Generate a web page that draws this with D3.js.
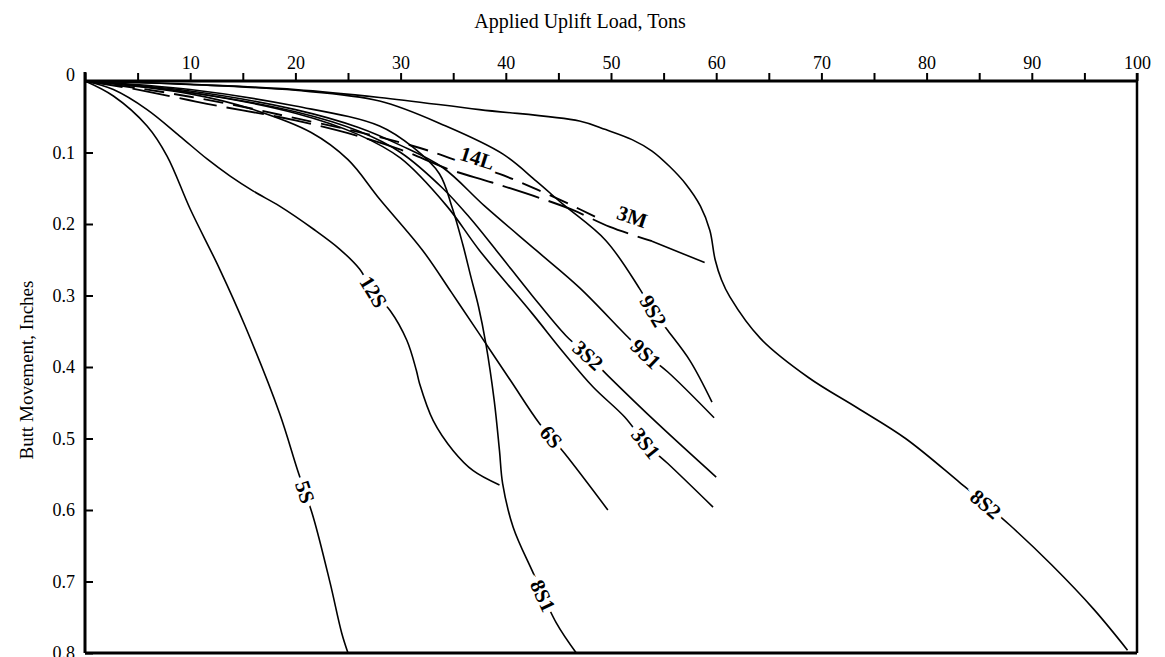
<!DOCTYPE html>
<html>
<head>
<meta charset="utf-8">
<script src="https://cdn.jsdelivr.net/npm/d3@7"></script>
<style>
  body { margin: 0; background: #fff; }
</style>
</head>
<body>
<script>
const width = 1165;
const height = 657;
const x_left = 85;
const x_right = 1137;
const y_top = 81;
const y_bottom = 653;
const serif = "'Liberation Serif', 'Times New Roman', serif";

// load (tons) vs butt movement (inches)
const s5S = [[0,0],[2.7,0.021],[5.9,0.063],[7.8,0.105],[10,0.179],[12.8,0.263],[15.2,0.342],[18.5,0.465],[20.2,0.544],[21.7,0.61],[23.3,0.702],[24.4,0.772],[25,0.8]];
const s12S = [[0,0],[2.7,0.012],[5.9,0.04],[9,0.077],[11.6,0.109],[13.8,0.133],[16,0.154],[18.5,0.175],[21.7,0.207],[24.2,0.235],[26.1,0.263],[27.4,0.295],[29,0.321],[30.6,0.363],[31.5,0.405],[31.8,0.423],[33.1,0.475],[35,0.517],[36.9,0.545],[39.4,0.565]];
const s8S1 = [[0,0],[10,0.012],[20,0.035],[28,0.063],[31.2,0.093],[33.7,0.13],[34.9,0.177],[35.9,0.228],[36.7,0.275],[37.4,0.315],[38.1,0.367],[38.9,0.447],[39.4,0.517],[39.7,0.563],[40.7,0.624],[42.6,0.688],[44.8,0.758],[46.7,0.8]];
const s6S = [[0,0],[10,0.018],[16,0.04],[21.5,0.072],[25,0.11],[28,0.165],[32.1,0.237],[34.8,0.295],[37.5,0.354],[40.5,0.42],[43.2,0.479],[45.6,0.521],[49.7,0.6]];
const s3S2 = [[0,0],[10,0.016],[20,0.043],[26,0.07],[30,0.1],[34,0.15],[36.5,0.19],[39.1,0.237],[42.5,0.3],[45.7,0.356],[47.8,0.384],[49.7,0.412],[54.5,0.48],[60,0.554]];
const s3S1 = [[0,0],[10,0.016],[20,0.045],[26,0.075],[30,0.108],[34.4,0.175],[37.5,0.237],[42.5,0.325],[45.5,0.38],[48.3,0.428],[51.3,0.47],[53.3,0.507],[55.4,0.535],[59.7,0.596]];
const s9S1 = [[0,0],[10,0.014],[20,0.04],[26,0.065],[30,0.09],[34,0.121],[38,0.175],[42.9,0.237],[47,0.289],[51.6,0.358],[53.3,0.382],[55.4,0.407],[59.8,0.471]];
const s9S2 = [[0,0],[10,0.005],[20,0.013],[28,0.028],[34.3,0.063],[39.7,0.102],[42.9,0.14],[45.4,0.172],[49.5,0.223],[52.7,0.29],[54,0.322],[55.4,0.349],[57.5,0.391],[59.6,0.449]];
const s14L = [[0,0],[5,0.01],[10,0.022],[15,0.036],[20,0.052],[25,0.068],[30,0.086],[33.2,0.1],[35.1,0.11],[39.4,0.13],[43,0.152],[46,0.172],[48.5,0.19]];
const s3M = [[0,0],[5,0.012],[11.6,0.032],[15,0.041],[20,0.055],[25,0.073],[30,0.096],[34.5,0.123],[38.7,0.142],[43.5,0.165],[46.3,0.18],[49.9,0.204],[53.9,0.224],[58.9,0.254]];
const s8S2 = [[0,0],[9,0.004],[20,0.012],[28,0.023],[37.5,0.04],[47,0.056],[49.5,0.068],[52,0.082],[53.9,0.098],[55.6,0.12],[57.1,0.144],[58.5,0.175],[59.4,0.209],[59.9,0.25],[60.5,0.278],[61.3,0.302],[64.2,0.36],[68.8,0.415],[73.4,0.457],[78,0.5],[83.1,0.561],[87.9,0.621],[91.9,0.677],[95.9,0.739],[99.1,0.796]];

const series_names = ["5S", "12S", "8S1", "6S", "3S2", "3S1", "9S1", "9S2", "14L", "3M", "8S2"];
const series_values = [s5S, s12S, s8S1, s6S, s3S2, s3S1, s9S1, s9S2, s14L, s3M, s8S2];
// where each curve's name sits (load, movement)
const label_points = [[20.9,0.575],[27.4,0.295],[43.5,0.72],[44.3,0.498],[47.8,0.384],[53.3,0.507],[53.3,0.382],[54.0,0.322],[37.3,0.108],[52.0,0.190],[85.6,0.592]];
// dashed part of a curve runs up to this load (0 = solid curve)
const dashed_until = [0, 0, 0, 0, 0, 0, 0, 0, 100, 53.9, 0];

const x_ticks = d3.range(0, 101, 5);
const y_ticks = [0, 0.1, 0.2, 0.3, 0.4, 0.5, 0.6, 0.7, 0.8];

const svg = d3.select("body").append("svg")
    .attr("width", width)
    .attr("height", height)
    .style("font-family", serif);

const x = d3.scaleLinear().domain([0, 100]).range([x_left, x_right]);
const y = d3.scaleLinear().domain([0, 0.8]).range([y_top, y_bottom]);

// top axis: ticks every 5, labels every 10
const top_axis = svg.append("g")
    .attr("transform", `translate(0,${y_top})`)
    .call(d3.axisTop(x)
        .tickValues(x_ticks)
        .tickSize(8)
        .tickPadding(4)
        .tickFormat(d => (d > 0 && d % 10 === 0) ? d : ""));
top_axis.select(".domain").remove();
top_axis.selectAll(".tick line").attr("stroke", "#000").attr("stroke-width", 2);
top_axis.selectAll(".tick text")
    .attr("fill", "#000")
    .style("font-size", "18px")
    .style("font-family", serif);

// left axis: ticks point into the plot, labels outside
const left_axis = svg.append("g")
    .attr("transform", `translate(${x_left},0)`)
    .call(d3.axisLeft(y)
        .tickValues(y_ticks)
        .tickSizeInner(-8)
        .tickSizeOuter(0)
        .tickPadding(10)
        .tickFormat(d => d === 0 ? "0" : d3.format(".1f")(d)));
left_axis.select(".domain").remove();
left_axis.selectAll(".tick line").attr("stroke", "#000").attr("stroke-width", 2);
left_axis.selectAll(".tick").filter(d => d === 0).select("line").remove();
left_axis.selectAll(".tick text")
    .attr("fill", "#000")
    .style("font-size", "18px")
    .style("font-family", serif);
left_axis.selectAll(".tick").filter(d => d === 0).select("text").attr("dy", "-0.05em");

// frame
const frame = svg.append("g").attr("stroke", "#000").attr("fill", "none");
frame.append("line").attr("x1", x_left - 1).attr("x2", x_right + 1)
    .attr("y1", y_top).attr("y2", y_top).attr("stroke-width", 3);
frame.append("line").attr("x1", x_left).attr("x2", x_left)
    .attr("y1", y_top - 9).attr("y2", y_bottom).attr("stroke-width", 3);
frame.append("line").attr("x1", x_right).attr("x2", x_right)
    .attr("y1", y_top - 8).attr("y2", y_bottom).attr("stroke-width", 2.5);
frame.append("line").attr("x1", x_left).attr("x2", x_right)
    .attr("y1", y_bottom).attr("y2", y_bottom).attr("stroke-width", 3);

// axis titles
svg.append("text")
    .attr("x", 580)
    .attr("y", 28)
    .attr("text-anchor", "middle")
    .style("font-size", "20px")
    .text("Applied Uplift Load, Tons");

svg.append("text")
    .attr("transform", "translate(26,370) rotate(-90)")
    .attr("text-anchor", "middle")
    .attr("dominant-baseline", "central")
    .style("font-size", "19px")
    .text("Butt Movement, Inches");

// curves
const line = d3.line()
    .x(d => x(d[0]))
    .y(d => y(d[1]))
    .curve(d3.curveCatmullRom.alpha(0.5));

const curves = svg.append("g").attr("fill", "none").attr("stroke", "#000").attr("stroke-width", 1.6);

series_values.forEach((pts, i) => {
    const cut = dashed_until[i];
    if (cut === 0) {
        curves.append("path").attr("d", line(pts));
        return;
    }
    const dashed_pts = pts.filter(p => p[0] <= cut);
    const solid_pts = pts.filter(p => p[0] >= cut);
    curves.append("path")
        .attr("d", line(dashed_pts))
        .attr("stroke-width", 1.9)
        .attr("stroke-dasharray", series_names[i] === "3M" ? "38,10" : "20,10");
    if (solid_pts.length > 1) curves.append("path").attr("d", line(solid_pts));
});

// angle of the curve (screen space) at a given load
function curveAngle(pts, lx) {
    let i = 0;
    while (i < pts.length - 2 && pts[i + 1][0] < lx) i++;
    const dx = x(pts[i + 1][0]) - x(pts[i][0]);
    const dy = y(pts[i + 1][1]) - y(pts[i][1]);
    return Math.atan2(dy, dx) * 180 / Math.PI;
}

svg.append("g").selectAll("text")
    .data(series_names)
    .enter()
    .append("text")
    .attr("transform", (d, i) => {
        const p = label_points[i];
        return `translate(${x(p[0])},${y(p[1])}) rotate(${curveAngle(series_values[i], p[0])})`;
    })
    .attr("text-anchor", "middle")
    .attr("dominant-baseline", "central")
    .attr("stroke", "#fff")
    .attr("stroke-width", 10)
    .attr("paint-order", "stroke")
    .attr("fill", "#000")
    .style("font-size", "21px")
    .style("font-weight", "bold")
    .text(d => d);
</script>
</body>
</html>
